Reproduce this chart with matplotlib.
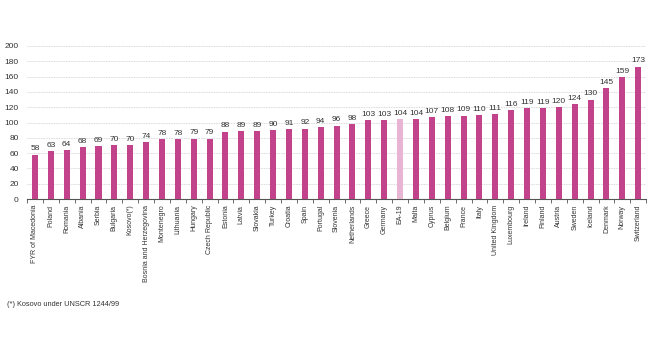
import numpy as np
import matplotlib.pyplot as plt

plt.rcParams['font.family'] = ['Liberation Sans', 'DejaVu Sans']

countries = ['FYR of Macedonia', 'Poland', 'Romania', 'Albania', 'Serbia', 'Bulgaria',
             'Kosovo(*)', 'Bosnia and Herzegovina', 'Montenegro', 'Lithuania', 'Hungary',
             'Czech Republic', 'Estonia', 'Latvia', 'Slovakia', 'Turkey', 'Croatia', 'Spain',
             'Portugal', 'Slovenia', 'Netherlands', 'Greece', 'Germany', 'EA-19', 'Malta',
             'Cyprus', 'Belgium', 'France', 'Italy', 'United Kingdom', 'Luxembourg', 'Ireland',
             'Finland', 'Austria', 'Sweden', 'Iceland', 'Denmark', 'Norway', 'Switzerland']
values = [58, 63, 64, 68, 69, 70, 70, 74, 78, 78, 79, 79, 88, 89, 89, 90, 91, 92, 94,
          96, 98, 103, 103, 104, 104, 107, 108, 109, 110, 111, 116, 119, 119, 120, 124,
          130, 145, 159, 173]
y_ticks = [0, 20, 40, 60, 80, 100, 120, 140, 160, 180, 200]

bar_col = '#c2428c'
ea_col = '#e8b4d4'
txt_col = '#333333'

fig = plt.figure(figsize=(6.6, 3.38), dpi=100)
ax = fig.add_axes([0.041, 0.411, 0.938, 0.453])

x = np.arange(len(countries))
colors = [ea_col if c == 'EA-19' else bar_col for c in countries]
ax.bar(x, values, width=0.38, color=colors, zorder=3)

# value labels above the bars
for xi, v in zip(x, values):
    ax.text(xi, v + 3, str(v), ha='center', va='bottom', fontsize=6, color=txt_col)

ax.set_xlim(-0.5, len(countries) - 0.5)
ax.set_ylim(0, 200)
ax.set_yticks(y_ticks)
ax.set_yticklabels([str(t) for t in y_ticks], fontsize=6, color=txt_col)
ax.set_xticks(x)
ax.set_xticklabels(countries, rotation=90, fontsize=5.0, color=txt_col)
ax.set_xticks(np.arange(-0.5, len(countries), 1), minor=True)
ax.tick_params(axis='x', which='major', length=0, pad=4)
ax.tick_params(axis='x', which='minor', length=3, color='#555555', width=0.6)
ax.tick_params(axis='y', length=0, pad=6)

ax.yaxis.grid(True, color='#cccccc', linestyle=(0, (1, 1)), linewidth=0.6, zorder=0)
for s in ['top', 'right', 'left']:
    ax.spines[s].set_visible(False)
ax.spines['bottom'].set_color('#555555')
ax.spines['bottom'].set_linewidth(0.8)

fig.text(0.011, 0.094, '(*) Kosovo under UNSCR 1244/99', fontsize=5.3, color=txt_col)

fig.savefig('out.png', dpi=100)
